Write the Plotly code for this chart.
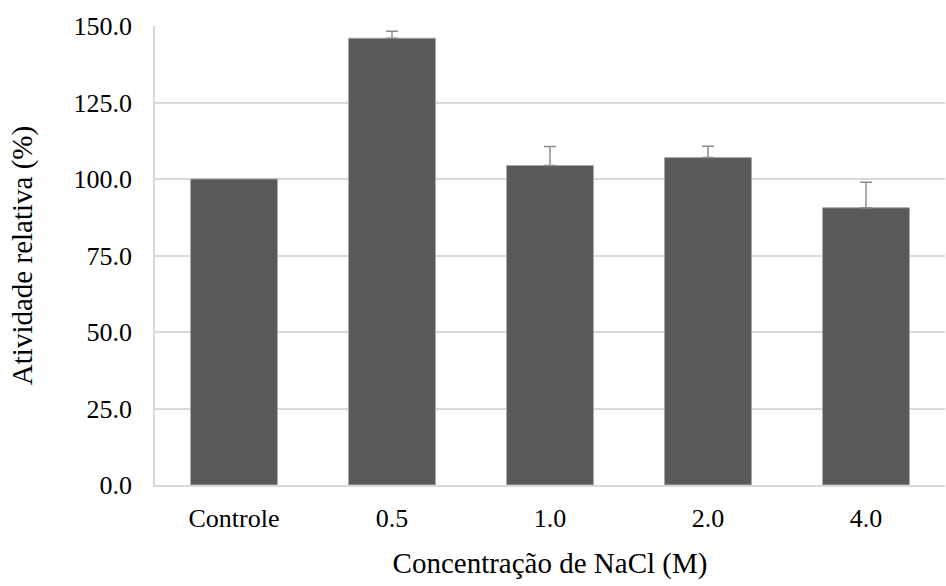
import plotly.graph_objects as go

categories = ["Controle", "0.5", "1.0", "2.0", "4.0"]
values = [100.0, 146.0, 104.4, 107.0, 90.6]
errors = [0.0, 2.3, 6.2, 3.7, 8.3]

font_family = "Liberation Serif"

fig = go.Figure()
fig.add_trace(
    go.Bar(
        x=categories,
        y=values,
        width=0.55,
        marker=dict(color="#595959", line=dict(color="#a6a6a6", width=1)),
        hoverinfo="x+y",
    )
)
# error bars only where the reference shows them (non-zero errors)
err_idx = [i for i, e in enumerate(errors) if e > 0]
fig.add_trace(
    go.Scatter(
        x=[categories[i] for i in err_idx],
        y=[values[i] for i in err_idx],
        mode="markers",
        marker=dict(size=1, opacity=0),
        error_y=dict(type="data", array=[errors[i] for i in err_idx],
                     symmetric=False, arrayminus=[0] * len(err_idx),
                     color="#8c8c8c", thickness=1.5, width=6),
        hoverinfo="skip",
    )
)

fig.update_layout(
    width=946, height=586,
    margin=dict(l=155, r=1, t=26, b=101),
    plot_bgcolor="white", paper_bgcolor="white",
    font=dict(family=font_family, size=26, color="#000000"),
    showlegend=False,
)
fig.update_xaxes(
    showline=True, linecolor="#d9d9d9", linewidth=1.5,
    ticks="outside", ticklen=9, tickcolor="rgba(0,0,0,0)",
    title=dict(text="Concentração de NaCl (M)", standoff=21,
               font=dict(family=font_family, size=29)),
    tickfont=dict(family=font_family, size=26),
)
fig.update_yaxes(
    range=[0, 150], dtick=25, tickformat=".1f",
    showgrid=True, gridcolor="#d9d9d9", gridwidth=1.5,
    showline=True, linecolor="#d9d9d9", linewidth=1.5,
    zeroline=False,
    ticks="outside", ticklen=16, tickcolor="rgba(0,0,0,0)",
    title=dict(text="Atividade relativa (%)", standoff=32,
               font=dict(family=font_family, size=29)),
    tickfont=dict(family=font_family, size=26),
)

fig.write_html("out.html")
